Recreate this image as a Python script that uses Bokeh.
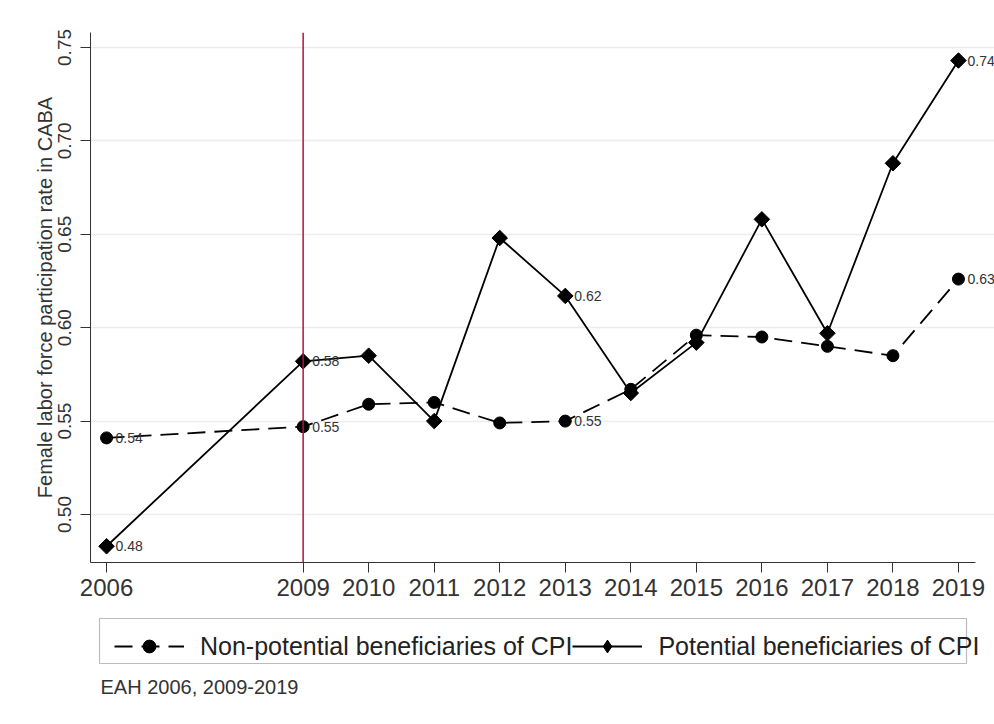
import numpy as np
from bokeh.plotting import figure
from bokeh.layouts import column
from bokeh.models import (FixedTicker, PrintfTickFormatter, Span, Legend, LegendItem,
                          Label, BoxAnnotation, ColumnDataSource, Range1d)
from bokeh.core.properties import value
from bokeh.embed import file_html
from bokeh.resources import INLINE

# Female labor force participation rate in CABA, by year
years = [2006, 2009, 2010, 2011, 2012, 2013, 2014, 2015, 2016, 2017, 2018, 2019]
non_potential = [0.541, 0.547, 0.559, 0.560, 0.549, 0.550, 0.567, 0.596, 0.595, 0.590, 0.585, 0.626]
potential = [0.483, 0.582, 0.585, 0.550, 0.648, 0.617, 0.565, 0.592, 0.658, 0.597, 0.688, 0.743]

labelled_years = [2006, 2009, 2013, 2019]
y_ticks = [0.50, 0.55, 0.60, 0.65, 0.70, 0.75]
policy_year = 2009

series_names = ["Non-potential beneficiaries of CPI", "Potential beneficiaries of CPI"]
y_title = "Female labor force participation rate in CABA"
source_note = "EAH 2006, 2009-2019"

FONT = "Liberation Sans"
INK = "#333333"
LINE_W = 1.8
DASH = "18 9"

X_AXIS_START, X_AXIS_END = 2005.755, 2019.26

src_np = ColumnDataSource(dict(x=years, y=non_potential))
src_p = ColumnDataSource(dict(x=years, y=potential))


def labelled(vals):
    xs = [yr for yr in years if yr in labelled_years]
    ys = [v for yr, v in zip(years, vals) if yr in labelled_years]
    return ColumnDataSource(dict(x=xs, y=ys, t=["%.2f" % v for v in ys]))


def draw_series(fig, diamond):
    """Both series as line + markers; returns the renderers for a key."""
    l_np = fig.line("x", "y", source=src_np, line_color="black", line_width=LINE_W, line_dash=DASH)
    m_np = fig.scatter("x", "y", source=src_np, marker="circle", size=12,
                       fill_color="black", line_color="black")
    l_p = fig.line("x", "y", source=src_p, line_color="black", line_width=LINE_W)
    m_p = fig.scatter("x", "y", source=src_p, fill_color="black", line_color="black", **diamond)
    return [l_np, m_np], [l_p, m_p]


# main chart: the frame runs to the right edge so end-point value labels are
# not cut; the x axis itself stops at X_AXIS_END
p = figure(frame_width=904, frame_height=530, output_backend="svg", toolbar_location=None,
           x_range=Range1d(X_AXIS_START, 2019.55), y_range=Range1d(0.4743, 0.758),
           min_border_left=90, min_border_right=0, min_border_top=32, min_border_bottom=50)
p.outline_line_color = None
p.background_fill_color = "white"
p.border_fill_color = "white"

p.xaxis.ticker = FixedTicker(ticks=years)
p.xaxis.bounds = (X_AXIS_START, X_AXIS_END)
p.yaxis.ticker = FixedTicker(ticks=y_ticks)
p.yaxis.formatter = PrintfTickFormatter(format="%.2f")
for ax in (p.xaxis[0], p.yaxis[0]):
    ax.axis_line_color = INK
    ax.major_tick_line_color = INK
    ax.major_tick_out = 10
    ax.major_tick_in = 0
    ax.minor_tick_line_color = None
    ax.major_label_text_font = FONT
    ax.major_label_text_color = INK
    ax.major_label_standoff = 6
p.xaxis.major_label_text_font_size = "24px"
p.yaxis.major_label_text_font_size = "19px"
p.yaxis.major_label_standoff = 9
p.yaxis.major_label_orientation = "vertical"
p.yaxis.axis_label = y_title
p.yaxis.axis_label_text_font = FONT
p.yaxis.axis_label_text_font_style = "normal"
p.yaxis.axis_label_text_font_size = "20px"
p.yaxis.axis_label_text_color = INK
p.yaxis.axis_label_standoff = 0

p.xgrid.grid_line_color = None
p.ygrid.grid_line_color = "#ececec"
p.ygrid.grid_line_width = 1.5

# policy start marker
p.add_layout(Span(location=policy_year, dimension="height", line_color="#b5123f", line_width=1.5))

draw_series(p, dict(marker="square", angle=np.pi / 4, size=11))

for s in (labelled(non_potential), labelled(potential)):
    p.text("x", "y", text="t", source=s, x_offset=9, text_baseline="middle",
           text_font=value(FONT), text_font_size="14px", text_color=INK)

# key and source note underneath; its ranges keep the series themselves out of view,
# so only the key glyphs show
k = figure(width=994, height=112, output_backend="svg", toolbar_location=None,
           x_axis_location=None, y_axis_location=None, min_border=0,
           x_range=Range1d(0, 1), y_range=Range1d(0, 1))
k.outline_line_color = None
k.grid.visible = False
k.background_fill_color = "white"
k.border_fill_color = "white"

key_np, key_p = draw_series(k, dict(marker="diamond", size=17))

legend = Legend(items=[LegendItem(label=series_names[0], renderers=key_np),
                       LegendItem(label=series_names[1], renderers=key_p)],
                orientation="horizontal", location=(24, 62),
                glyph_width=70, glyph_height=32, label_standoff=16, spacing=0,
                padding=9, margin=0,
                label_text_font=FONT, label_text_font_size="25px", label_text_color="#222222",
                border_line_color=None, background_fill_alpha=0)
k.add_layout(legend, "center")
k.add_layout(BoxAnnotation(left=9, right=876, top=106, bottom=61,
                           left_units="screen", right_units="screen",
                           top_units="screen", bottom_units="screen",
                           fill_alpha=0, line_color="#222222", line_width=1.2))
k.add_layout(Label(x=10, y=38, x_units="screen", y_units="screen", text=source_note,
                   text_font=FONT, text_font_size="20px", text_color=INK,
                   text_baseline="middle"))

layout = column(p, k, spacing=0)
open("out.html", "w").write(file_html(layout, INLINE))
